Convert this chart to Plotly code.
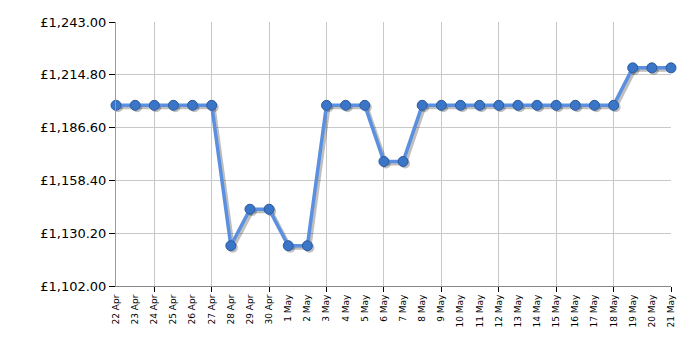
import plotly.graph_objects as go

dates = ["22 Apr", "23 Apr", "24 Apr", "25 Apr", "26 Apr", "27 Apr", "28 Apr", "29 Apr", "30 Apr",
         "1 May", "2 May", "3 May", "4 May", "5 May", "6 May", "7 May", "8 May", "9 May", "10 May",
         "11 May", "12 May", "13 May", "14 May", "15 May", "16 May", "17 May", "18 May", "19 May",
         "20 May", "21 May"]
prices = [1198.5, 1198.5, 1198.5, 1198.5, 1198.5, 1198.5, 1123.5, 1143.0, 1143.0,
          1123.5, 1123.5, 1198.5, 1198.5, 1198.5, 1168.5, 1168.5, 1198.5, 1198.5, 1198.5,
          1198.5, 1198.5, 1198.5, 1198.5, 1198.5, 1198.5, 1198.5, 1198.5, 1218.5,
          1218.5, 1218.5]
y_ticks = [1102.0, 1130.2, 1158.4, 1186.6, 1214.8, 1243.0]
y_labels = ["£{:,.2f}".format(v) for v in y_ticks]

x = list(range(len(dates)))
W, H = 700, 350
L, R, T, B = 116, 29, 22, 64
pw, ph = W - L - R, H - T - B
xr = [0, 29]
yr = [1102, 1243]
sx = 2.0 * (xr[1] - xr[0]) / pw
sy = 2.0 * (yr[1] - yr[0]) / ph

FONT = "DejaVu Sans, Verdana, sans-serif"

fig = go.Figure()
# shadow on base (hidden) axes, shifted range
fig.add_trace(go.Scatter(x=x, y=prices, mode="lines+markers",
                         line=dict(color="rgba(0,0,0,0.25)", width=4),
                         marker=dict(size=10, color="rgba(0,0,0,0.25)"),
                         hoverinfo="skip", cliponaxis=False, showlegend=False))
# main series on visible overlay axes
fig.add_trace(go.Scatter(x=x, y=prices, mode="lines+markers", xaxis="x2", yaxis="y2",
                         line=dict(color="#5b90e0", width=3.5),
                         marker=dict(size=10, color="#3b75c8", line=dict(color="#2b5a9c", width=1)),
                         cliponaxis=False, showlegend=False))

fig.update_layout(
    width=W, height=H,
    margin=dict(l=L, r=R, t=T, b=B, pad=0),
    plot_bgcolor="white", paper_bgcolor="white",
    font=dict(family=FONT, color="black"),
    xaxis=dict(range=[xr[0] - sx, xr[1] - sx], visible=False, showgrid=False, zeroline=False),
    yaxis=dict(range=[yr[0] + sy, yr[1] + sy], visible=False, showgrid=False, zeroline=False),
    xaxis2=dict(overlaying="x", anchor="y2", side="bottom",
                range=xr, tickmode="array", tickvals=x, ticktext=dates,
                tickangle=-90, tickfont=dict(size=9, family=FONT), ticks="", showgrid=False,
                showline=True, linecolor="#888888", linewidth=1, zeroline=False,
                ticklabelstandoff=4,
                minor=dict(tickmode="linear", tick0=2, dtick=3, showgrid=True,
                           gridcolor="#c8c8c8", gridwidth=1, ticks="outside",
                           ticklen=5, tickcolor="black", tickwidth=1)),
    yaxis2=dict(overlaying="y", anchor="x2", side="left",
                range=yr, tickmode="array", tickvals=y_ticks, ticktext=y_labels,
                tickfont=dict(size=13, family=FONT),
                ticks="outside", ticklen=6, tickcolor="black",
                showgrid=True, gridcolor="#c8c8c8", gridwidth=1,
                showline=True, linecolor="#999999", zeroline=False),
)

fig.write_html("out.html")
